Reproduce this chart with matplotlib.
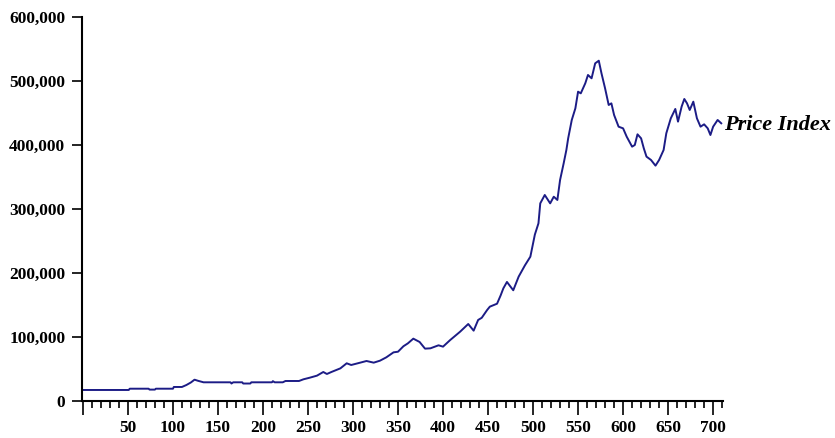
import matplotlib
matplotlib.use("Agg")
import matplotlib.pyplot as plt
from matplotlib.ticker import MultipleLocator, FuncFormatter

# Price index by period
period = [
    1, 51, 52, 73, 74, 80, 81, 100, 101, 110, 115, 120, 124, 128, 134,
    164, 165, 167, 177, 178, 186, 187, 210, 211, 213, 222, 225, 240,
    245, 252, 260, 267, 271, 276, 286, 293, 298, 308, 315, 323, 330, 337,
    345, 350, 356, 361, 367, 374, 380, 386, 395, 400, 408, 419, 428, 434,
    439, 443, 449, 452, 460, 464, 467, 471, 478, 484, 491, 497, 502, 506,
    508, 513, 519, 523, 527, 530, 534, 537, 539, 543, 547, 550, 553, 558,
    561, 565, 569, 573, 576, 580, 584, 587, 590, 595, 600, 604, 610, 613,
    616, 620, 623, 626, 631, 636, 640, 645, 648, 653, 658, 661, 665, 668,
    671, 674, 678, 682, 686, 690, 694, 697, 700, 705, 709,
]
price_index = [
    17200, 17200, 19200, 19200, 17800, 17800, 19200, 19200, 21900, 21900,
    25000, 29000, 33300, 31500, 29200,
    29200, 27300, 29200, 29200, 27300, 27300, 29200, 29200, 31000, 29200,
    29200, 31250, 31250,
    33900, 36400, 39600, 45300, 42200, 45300, 51000, 58900, 56250, 59900,
    62500, 59900, 63000, 68200,
    76000, 77000, 85500, 90100, 97400, 92200, 81800, 82300, 87000, 84900,
    95300, 108300, 120300, 109900,
    126600, 130000, 142200, 147400, 152000, 165000, 176000, 186000, 173000,
    194300, 212000, 225500, 260000, 277600,
    308800, 321900, 308800, 319200, 314100, 345300, 371400, 392200, 410400,
    439100, 457300, 483300, 480700, 496400,
    509400, 504200, 527600, 531700, 512000, 488500, 462500, 465100, 446900,
    428600, 426000, 413000, 397400, 400000,
    416700, 410400, 394800, 381800, 376600, 367700, 376600, 392200, 418300,
    441700, 456300, 436500, 459900, 471900,
    465100, 454700, 467700, 441700, 428600, 432300, 426000, 415600, 428600,
    439100, 433900,
]

y_ticks = [0, 100000, 200000, 300000, 400000, 500000, 600000]
series_label = "Price Index"

plt.rcParams["font.family"] = ["Liberation Serif", "DejaVu Serif"]

fig = plt.figure(figsize=(8.35, 4.38), dpi=100)
ax = fig.add_axes([0.0982, 0.0845, 0.7677, 0.8767])

ax.plot(period, price_index, color="#1c1c86", linewidth=1.4)

ax.set_xlim(-1, 711)
ax.set_ylim(0, 600000)

ax.xaxis.set_major_locator(MultipleLocator(50))
ax.xaxis.set_minor_locator(MultipleLocator(10))
ax.set_yticks(y_ticks)
ax.yaxis.set_major_formatter(FuncFormatter(lambda v, p: f"{int(v):,}"))
ax.xaxis.set_major_formatter(FuncFormatter(lambda v, p: "" if v <= 0 else f"{int(v)}"))

for side in ("top", "right"):
    ax.spines[side].set_visible(False)
for side in ("left", "bottom"):
    ax.spines[side].set_linewidth(1.5)

ax.tick_params(axis="x", which="major", direction="out", length=10, width=1.2,
               pad=4, labelsize=12.5)
ax.tick_params(axis="x", which="minor", direction="out", length=5, width=1.2)
ax.tick_params(axis="y", which="major", direction="out", length=7, width=1.2,
               pad=5, labelsize=12.5)
for lbl in ax.get_xticklabels() + ax.get_yticklabels():
    lbl.set_fontweight("bold")

ax.text(712, 431000, series_label, fontsize=16, fontweight="bold",
        fontstyle="italic", ha="left", va="center", clip_on=False)

fig.savefig("out.png", dpi=100)
